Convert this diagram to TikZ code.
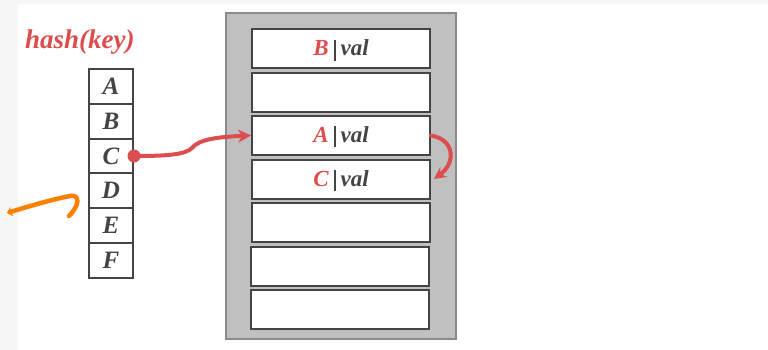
\documentclass[tikz,border=0pt]{standalone}
\usepackage{fontspec}
\setmainfont{Liberation Serif}
\usetikzlibrary{arrows.meta,calc}
\definecolor{hred}{HTML}{DE4D4D}
\definecolor{htext}{HTML}{444444}
\definecolor{hgray}{HTML}{C0C0C0}
\definecolor{hborder}{HTML}{8A8A8A}
\definecolor{horange}{HTML}{FF8000}
\definecolor{hbg}{HTML}{F6F6F6}
\tikzset{
  cell/.style={draw=htext, line width=2pt, fill=white, minimum width=44pt, minimum height=34.8pt, inner sep=0pt, text=htext, font=\fontsize{25}{25}\selectfont\bfseries\itshape},
  slot/.style={draw=htext, line width=2pt, fill=white, minimum width=178pt, minimum height=39pt, inner sep=0pt, text height=17pt, text depth=3pt, text=htext, font=\fontsize{23}{23}\selectfont\bfseries\itshape},
  redline/.style={draw=hred, line width=4pt, line cap=round},
}
\newcommand{\kv}[1]{\textcolor{hred}{#1}\hspace{5pt}{\color{htext}\rule[-5pt]{2pt}{21pt}}\hspace{5pt}val}
\begin{document}
\begin{tikzpicture}[x=1pt,y=-1pt]
\useasboundingbox (0,0) rectangle (768,350);
\fill[hbg] (0,0) rectangle (768,350);
\fill[white] (18,4) rectangle (768,350);
% title
\node[text=hred, font=\fontsize{27}{27}\selectfont\bfseries\itshape, anchor=west, inner sep=0pt] (title) at (25,42) {hash(key)};
% left array
\node[cell] (cA) at (111,86.4) {A};
\node[cell] (cB) at (111,121.2) {B};
\node[cell] (cC) at (111,156) {C};
\node[cell] (cD) at (111,190.8) {D};
\node[cell] (cE) at (111,225.6) {E};
\node[cell] (cF) at (111,260.4) {F};
% table box
\node[draw=hborder, line width=1.5pt, fill=hgray, minimum width=230pt, minimum height=326pt, inner sep=0pt] (box) at (341,176) {};
\node[slot] (s1) at (341,49) {\kv{B}};
\node[slot] (s2) at (341,92.5) {};
\node[slot] (s3) at (341,135.5) {\kv{A}};
\node[slot] (s4) at (341,179) {\kv{C}};
\node[slot] (s5) at (341,222.5) {};
\node[slot] (s6) at (340,266) {};
\node[slot] (s7) at (340,309) {};
% red arrow from C to slot A
\draw[redline, -{Stealth[length=13pt,width=13pt]}] (cC.east) .. controls (165,156) and (185,155) .. (192,148) .. controls (198,140) and (215,137) .. (s3.west);
\fill[hred] (cC.east) circle (6.5);
% curved arrow slot A to slot C
\draw[redline, -{Stealth[length=12pt,width=12pt]}] (s3.east) .. controls +(24,4) and +(22,-16) .. ([xshift=3pt]s4.east);
% orange hand-drawn arrow
\coordinate (o1) at (7,213);
\coordinate (o2) at (69,216);
\draw[draw=horange, line width=4.5pt, line cap=round, -{Stealth[length=5pt,width=10pt]}] (o2) .. controls (80,205) and (80,194) .. (70,196) .. controls (50,200) and (30,206) .. (o1);
\end{tikzpicture}
\end{document}
